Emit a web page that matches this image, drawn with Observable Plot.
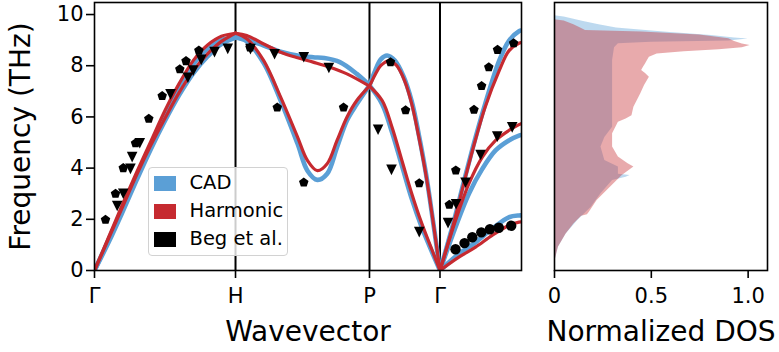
<!DOCTYPE html>
<html><head><meta charset="utf-8">
<script src="https://cdn.jsdelivr.net/npm/d3@7"></script>
<script src="https://cdn.jsdelivr.net/npm/@observablehq/plot@0.6"></script>
<style>
body{margin:0;background:#fff;font-family:"DejaVu Sans",sans-serif;}
#chart{position:relative;width:779px;height:352px;}
#chart svg{position:absolute;top:0;overflow:visible;}
.legend{position:absolute;left:147.5px;top:166.5px;width:140px;height:89px;border:1px solid #d2d2d2;border-radius:4px;background:rgba(255,255,255,0.8);box-sizing:border-box;font-size:19.5px;color:#000;}
.legend .row{position:absolute;left:5px;height:15px;}
.legend .sw{position:absolute;left:0;top:0;width:22px;height:15px;}
.legend .lb{position:absolute;left:36px;top:-4px;white-space:nowrap;line-height:22px;}
</style>
</head><body>
<div id="chart"></div>
<script>
// ---- path / ticks ----
const kTicks = [0, 1, 1.95, 2.45];
const kLabels = ["Γ", "H", "P", "Γ"];
const yTicks = [0, 2, 4, 6, 8, 10];
const dosTicks = [0, 0.5, 1.0];
const dosTickLabels = ["0", "0.5", "1.0"];

// ---- CAD dispersion branches [k, THz] ----
const cadGammaH_a = [[0,0],[0.1,1.2],[0.2,2.45],[0.3,3.7],[0.4,4.9],[0.5,6.1],[0.6,7.2],[0.7,8.05],[0.8,8.65],[0.9,9.0],[1,9.1]];
const cadGammaH_b = [[0,0],[0.1,1.1],[0.2,2.3],[0.3,3.55],[0.4,4.75],[0.5,5.85],[0.6,6.85],[0.7,7.7],[0.8,8.35],[0.9,8.85],[1,9.1]];
const cadHP_flat = [[1,9.1],[1.08,9.02],[1.2,8.79],[1.32,8.55],[1.44,8.4],[1.55,8.33],[1.63,8.3],[1.74,8.14],[1.86,7.68],[1.95,7.23]];
const cadHP_dip = [[1,9.1],[1.08,8.95],[1.2,8.1],[1.32,6.64],[1.44,4.95],[1.51,3.9],[1.58,3.54],[1.65,3.78],[1.72,4.82],[1.79,5.86],[1.86,6.5],[1.95,7.23]];
const cadPGamma_hump = [[1.95,7.23],[1.99,7.8],[2.03,8.25],[2.075,8.4],[2.13,8.2],[2.19,7.6],[2.25,6.6],[2.3,5.3],[2.35,3.8],[2.4,1.95],[2.45,0]];
const cadPGamma_low = [[1.95,7.23],[2.04,6.5],[2.11,5.4],[2.18,4.1],[2.25,2.8],[2.32,1.7],[2.395,0.7],[2.45,0]];
const cadGammaN_top = [[2.45,0],[2.54,1.75],[2.63,3.7],[2.7,5.15],[2.77,6.5],[2.87,8.2],[2.94,8.98],[3.01,9.35],[3.03,9.38]];
const cadGammaN_mid = [[2.45,0],[2.56,1.69],[2.655,3.0],[2.75,3.97],[2.844,4.69],[2.938,5.08],[3.01,5.27],[3.03,5.3]];
const cadGammaN_low = [[2.45,0],[2.584,0.65],[2.702,1.1],[2.82,1.63],[2.938,2.08],[3.01,2.15],[3.03,2.15]];

// ---- Harmonic dispersion branches ----
const harmGammaH_a = [[0,0],[0.1,1.3],[0.2,2.6],[0.3,3.85],[0.4,5.05],[0.5,6.25],[0.6,7.3],[0.7,8.2],[0.8,8.8],[0.9,9.15],[1,9.27]];
const harmGammaH_b = [[0,0],[0.1,1.25],[0.2,2.5],[0.3,3.75],[0.4,4.9],[0.5,5.95],[0.6,6.95],[0.7,7.8],[0.8,8.45],[0.9,8.95],[1,9.27]];
const harmHP_flat = [[1,9.27],[1.08,9.18],[1.2,8.85],[1.32,8.53],[1.44,8.31],[1.55,8.14],[1.67,7.94],[1.79,7.68],[1.95,7.2]];
const harmHP_dip = [[1,9.27],[1.08,9.05],[1.2,8.2],[1.32,6.77],[1.44,5.21],[1.51,4.3],[1.58,3.9],[1.65,4.17],[1.72,5.08],[1.79,5.99],[1.86,6.64],[1.95,7.2]];
const harmPGamma_hump = [[1.95,7.2],[1.99,7.65],[2.03,8.0],[2.085,8.18],[2.14,8.02],[2.2,7.4],[2.25,6.5],[2.3,5.21],[2.35,3.75],[2.4,1.95],[2.45,0]];
const harmPGamma_low = [[1.95,7.2],[2.04,6.64],[2.11,5.6],[2.18,4.3],[2.25,3.0],[2.32,1.85],[2.395,0.78],[2.45,0]];
const harmGammaN_top = [[2.45,0],[2.54,1.7],[2.63,3.64],[2.7,5.08],[2.77,6.38],[2.87,7.81],[2.94,8.59],[3.01,8.88],[3.03,8.9]];
const harmGammaN_mid = [[2.45,0],[2.56,1.95],[2.655,3.39],[2.75,4.43],[2.844,5.08],[2.938,5.47],[3.01,5.7],[3.03,5.75]];
const harmGammaN_low = [[2.45,0],[2.584,0.52],[2.702,0.91],[2.82,1.37],[2.938,1.76],[3.01,1.89],[3.03,1.9]];

// ---- Beg et al. experimental points ----
const begPentagons = [[0.078,1.98],[0.149,3.0],[0.204,4.0],[0.291,4.97],[0.385,5.93],[0.48,6.82],[0.605,7.86],[0.649,8.18],[0.74,8.59],[1.103,8.71],[1.296,6.37],[1.484,3.44],[1.766,6.37],[2.099,8.14],[2.206,6.26],[2.303,3.41],[2.516,2.57],[2.562,3.91],[2.691,6.28],[2.745,7.21],[2.796,7.94],[2.858,8.62],[2.972,8.88]];
const begTriangles = [[0.161,2.52],[0.204,3.0],[0.255,3.97],[0.267,4.43],[0.321,4.97],[0.539,6.88],[0.662,7.53],[0.7,7.81],[0.757,8.23],[0.851,8.53],[0.945,8.66],[1.106,8.65],[1.277,8.45],[1.484,8.33],[1.662,7.91],[2.011,5.5],[2.106,3.93],[2.303,1.5],[2.507,1.85],[2.564,2.59],[2.631,3.43],[2.738,4.51],[2.856,5.23],[2.962,5.59]];
const begCircles = [[2.56,0.83],[2.624,1.07],[2.679,1.30],[2.743,1.49],[2.804,1.61],[2.867,1.67],[2.955,1.75]];

// ---- DOS (frequency THz, normalized DOS) ----
const cadDosFreq  = [0,0.39,0.91,1.43,1.95,2.47,3.0,3.52,3.64,3.71,3.76,4.04,4.3,4.82,5.2,5.6,6.9,8.2,8.7,8.86,8.92,8.97,9.04,9.08,9.18,9.31,9.47,9.6,9.73,9.82,9.9,9.95];
const cadDosValue = [0,0.003,0.02,0.06,0.12,0.19,0.24,0.30,0.37,0.39,0.33,0.33,0.26,0.24,0.26,0.30,0.30,0.30,0.31,0.33,0.5,0.9,1.0,0.93,0.81,0.58,0.32,0.23,0.15,0.1,0.05,0];
const harmDosFreq  = [0,0.39,0.91,1.43,1.82,2.12,2.18,2.28,2.73,3.26,3.71,4.04,4.17,4.43,4.82,5.34,5.79,5.92,6.05,6.38,6.9,7.23,7.55,7.7,7.81,7.95,8.07,8.2,8.33,8.46,8.55,8.62,8.7,8.79,8.85,8.95,9.05,9.2,9.32,9.38,9.45,9.6,9.75,9.8];
const harmDosValue = [0,0.003,0.02,0.06,0.10,0.14,0.17,0.18,0.22,0.29,0.35,0.41,0.38,0.33,0.30,0.30,0.33,0.37,0.40,0.41,0.445,0.465,0.49,0.47,0.45,0.46,0.47,0.48,0.49,0.53,0.67,0.85,0.97,1.01,0.97,0.93,0.9,0.75,0.45,0.16,0.14,0.1,0.05,0];

const blue = "#5b9fd6", red = "#c62a30";

const toRows = (model, branch, arr) => arr.map(([k, f]) => ({model, branch, k, f}));
const cadRows = [
  toRows("CAD","gh_a",cadGammaH_a), toRows("CAD","gh_b",cadGammaH_b),
  toRows("CAD","hp_f",cadHP_flat), toRows("CAD","hp_d",cadHP_dip),
  toRows("CAD","pg_h",cadPGamma_hump), toRows("CAD","pg_l",cadPGamma_low),
  toRows("CAD","gn_t",cadGammaN_top), toRows("CAD","gn_m",cadGammaN_mid), toRows("CAD","gn_l",cadGammaN_low)
].flat();
const harmRows = [
  toRows("H","gh_a",harmGammaH_a), toRows("H","gh_b",harmGammaH_b),
  toRows("H","hp_f",harmHP_flat), toRows("H","hp_d",harmHP_dip),
  toRows("H","pg_h",harmPGamma_hump), toRows("H","pg_l",harmPGamma_low),
  toRows("H","gn_t",harmGammaN_top), toRows("H","gn_m",harmGammaN_mid), toRows("H","gn_l",harmGammaN_low)
].flat();
const ptRows = arr => arr.map(([k, f]) => ({k, f}));

const pentagon = {draw(ctx, size) {
  const r = Math.sqrt(size / Math.PI);
  for (let i = 0; i < 5; i++) {
    const a = -Math.PI / 2 + i * 2 * Math.PI / 5;
    const x = r * Math.cos(a), y = r * Math.sin(a);
    if (i) ctx.lineTo(x, y); else ctx.moveTo(x, y);
  }
  ctx.closePath();
}};
const triDown = {draw(ctx, size) {
  const r = Math.sqrt(size / Math.PI);
  ctx.moveTo(0, r); ctx.lineTo(-r, -r); ctx.lineTo(r, -r); ctx.closePath();
}};

const yDomain = [0, 10.47];
const font = "DejaVu Sans";

const left = Plot.plot({
  width: 545, height: 352,
  marginLeft: 94, marginRight: 24, marginTop: 2, marginBottom: 82,
  style: {fontFamily: font, background: "transparent", overflow: "visible", color: "black"},
  x: {domain: [0, 3.028]},
  y: {domain: yDomain},
  marks: [
    Plot.ruleX(kTicks.slice(1), {stroke: "black", strokeWidth: 2}),
    Plot.line(cadRows, {x: "k", y: "f", z: "branch", stroke: blue, strokeWidth: 4.6, curve: "catmull-rom", clip: true}),
    Plot.line(harmRows, {x: "k", y: "f", z: "branch", stroke: red, strokeWidth: 3.2, curve: "catmull-rom", clip: true}),
    Plot.dot(ptRows(begPentagons), {x: "k", y: "f", symbol: pentagon, r: 5, fill: "black", stroke: "none"}),
    Plot.dot(ptRows(begTriangles), {x: "k", y: "f", symbol: triDown, r: 5.3, fill: "black", stroke: "none"}),
    Plot.dot(ptRows(begCircles), {x: "k", y: "f", r: 5.2, fill: "black", stroke: "none"}),
    Plot.frame({stroke: "black", strokeWidth: 1.6}),
    Plot.axisX({ticks: kTicks, tickFormat: d => kLabels[kTicks.indexOf(d)], tickSize: 8, tickPadding: 10, strokeWidth: 1.6, fontSize: 21, label: null}),
    Plot.axisY({ticks: yTicks, tickFormat: d => String(d), tickSize: 8, tickPadding: 3, strokeWidth: 1.6, fontSize: 21, label: null}),
    Plot.text(["Frequency (THz)"], {text: d => d, frameAnchor: "left", textAnchor: "middle", dx: -73, rotate: -90, fontSize: 28, lineAnchor: "middle"}),
    Plot.text(["Wavevector"], {text: d => d, frameAnchor: "bottom", dy: 62, fontSize: 28, lineAnchor: "middle"})
  ]
});

const cadDos = cadDosFreq.map((f, i) => ({f, v: cadDosValue[i]}));
const harmDos = harmDosFreq.map((f, i) => ({f, v: harmDosValue[i]}));

const right = Plot.plot({
  width: 234, height: 352,
  marginLeft: 9, marginRight: 12, marginTop: 2, marginBottom: 82,
  style: {fontFamily: font, background: "transparent", overflow: "visible", color: "black"},
  x: {domain: [0, 1.1]},
  y: {domain: yDomain, axis: null},
  marks: [
    Plot.areaX(cadDos, {y: "f", x: "v", fill: blue, fillOpacity: 0.4, curve: "linear"}),
    Plot.areaX(harmDos, {y: "f", x: "v", fill: red, fillOpacity: 0.4, curve: "linear"}),
    Plot.frame({stroke: "black", strokeWidth: 1.6}),
    Plot.axisX({ticks: dosTicks, tickFormat: d => dosTickLabels[dosTicks.indexOf(d)], tickSize: 8, tickPadding: 10, strokeWidth: 1.6, fontSize: 21, label: null}),
    Plot.text(["Normalized DOS"], {text: d => d, frameAnchor: "bottom", dy: 62, fontSize: 28, lineAnchor: "middle"})
  ]
});

const chart = document.getElementById("chart");
left.style.left = "0px";
right.style.left = "545px";
chart.appendChild(left);
chart.appendChild(right);

// legend
const legendItems = [["CAD", blue], ["Harmonic", red], ["Beg et al.", "black"]];
const lg = document.createElement("div");
lg.className = "legend";
legendItems.forEach(([name, color], i) => {
  const row = document.createElement("div");
  row.className = "row";
  row.style.top = (8 + i * 28) + "px";
  row.innerHTML = `<div class="sw" style="background:${color}"></div><div class="lb">${name}</div>`;
  lg.appendChild(row);
});
chart.appendChild(lg);
</script>
</body></html>
